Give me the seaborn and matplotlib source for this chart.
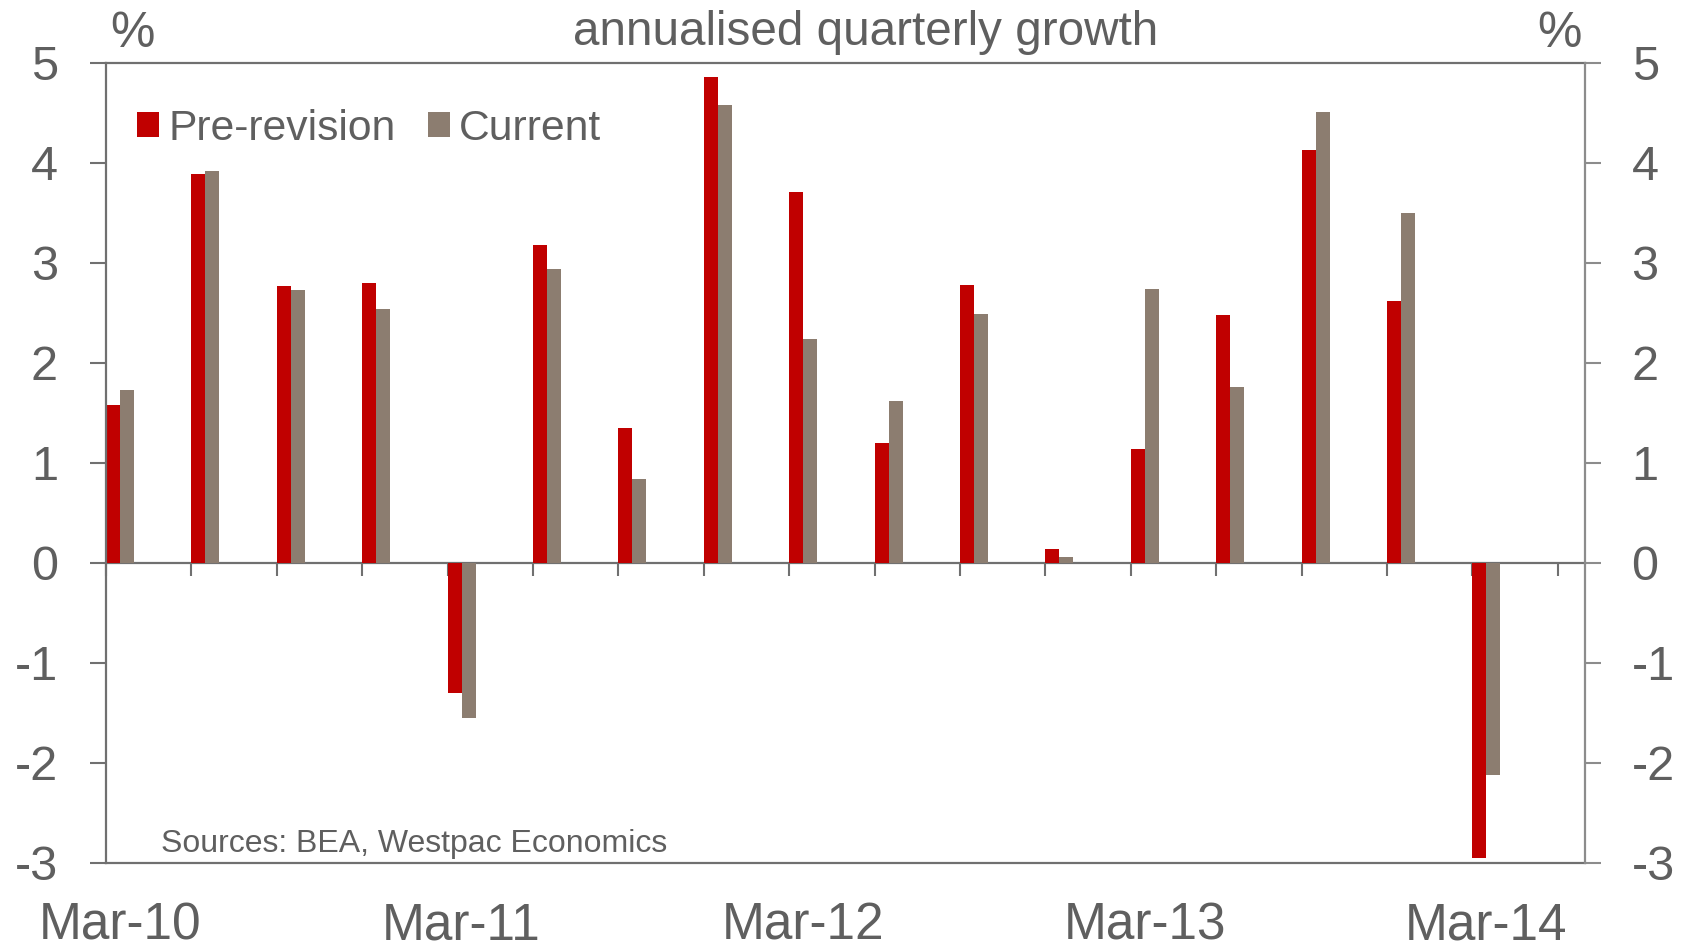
import matplotlib
matplotlib.use("Agg")
import matplotlib.pyplot as plt
import seaborn as sns
import pandas as pd

# ---- data ----
quarters = ['Mar-10', 'Jun-10', 'Sep-10', 'Dec-10', 'Mar-11', 'Jun-11', 'Sep-11', 'Dec-11',
            'Mar-12', 'Jun-12', 'Sep-12', 'Dec-12', 'Mar-13', 'Jun-13', 'Sep-13', 'Dec-13', 'Mar-14']
pre_revision = [1.58, 3.89, 2.77, 2.80, -1.30, 3.18, 1.35, 4.86,
                3.71, 1.20, 2.78, 0.14, 1.14, 2.48, 4.13, 2.62, -2.95]
current = [1.73, 3.92, 2.73, 2.54, -1.55, 2.94, 0.84, 4.58,
           2.24, 1.62, 2.49, 0.06, 2.74, 1.76, 4.51, 3.50, -2.12]
series_names = ['Pre-revision', 'Current']
y_ticks = [-3, -2, -1, 0, 1, 2, 3, 4, 5]
title = 'annualised quarterly growth'
source = 'Sources: BEA, Westpac Economics'

df = pd.DataFrame({
    'quarter': quarters * 2,
    'series': [series_names[0]] * len(quarters) + [series_names[1]] * len(quarters),
    'value': pre_revision + current,
})

# ---- style ----
sns.set_style('white')
plt.rcParams['font.family'] = ['Liberation Sans', 'DejaVu Sans']
TXT = '#5f5f5f'
SP = '#707070'
SP_R = '#8c8c8c'
RED = '#C00000'
GREY = '#8C7D70'

W, H = 1694, 951
fig, ax = plt.subplots(figsize=(W / 100, H / 100), dpi=100)
fig.subplots_adjust(left=106 / W, right=1585 / W, bottom=1 - 863 / H, top=1 - 63 / H)

pair_w = 0.328
sns.barplot(data=df, x='quarter', y='value', hue='series', order=quarters,
            hue_order=series_names, palette=[RED, GREY], width=pair_w, gap=0,
            saturation=1, errorbar=None, linewidth=0, ax=ax)

half = pair_w / 2
ax.set_xlim(-half, -half + 1479 / 85.4)
ax.set_ylim(-3, 5)
ax.set_xlabel('')
ax.set_ylabel('')

# x labels (only March quarters) at the bottom of the frame
lab_pos = [i for i, q in enumerate(quarters) if q.startswith('Mar')]
ax.set_xticks(lab_pos)
ax.set_xticklabels([quarters[i] for i in lab_pos], fontsize=37, color=TXT)
ax.tick_params(axis='x', length=0, pad=27.5)

# left y axis
ax.set_yticks(y_ticks)
ax.set_yticklabels([str(v) for v in y_ticks], fontsize=35, color=TXT)
ax.tick_params(axis='y', direction='out', length=11.5, width=1.5, color=SP, pad=23, left=True)

for s in ['left', 'top', 'bottom']:
    ax.spines[s].set_visible(True)
    ax.spines[s].set_color(SP)
    ax.spines[s].set_linewidth(1.6)
ax.spines['right'].set_visible(False)

# right y axis
ax2 = ax.twinx()
ax2.set_ylim(-3, 5)
ax2.set_yticks(y_ticks)
ax2.set_yticklabels([str(v) for v in y_ticks], fontsize=35, color=TXT)
ax2.tick_params(axis='y', direction='out', length=11.5, width=1.5, color=SP_R, pad=22, right=True)
for s in ['left', 'top', 'bottom']:
    ax2.spines[s].set_visible(False)
ax2.spines['right'].set_visible(True)
ax2.spines['right'].set_color(SP_R)
ax2.spines['right'].set_linewidth(1.6)

# zero line with category boundary ticks
sec = ax.secondary_xaxis(3 / 8)
sec.set_xticks([i - half for i in range(len(quarters) + 1)])
sec.set_xticklabels([])
sec.tick_params(axis='x', direction='out', length=9, width=1.5, color=SP)
sec.spines['bottom'].set_color(SP)
sec.spines['bottom'].set_linewidth(1.6)

# legend
sns.move_legend(ax, 'center left', bbox_to_anchor=((137 - 106) / 1479, (863 - 129) / 800),
                ncol=2, frameon=False, title=None, fontsize=30.7, handlelength=0.52,
                handleheight=0.52, handletextpad=0.22, columnspacing=0.75,
                borderpad=0, borderaxespad=0, labelcolor=TXT)

# texts
fig.text(866 / W, 1 - 45 / H, title, ha='center', va='baseline', fontsize=34.3, color=TXT)
fig.text(110 / W, 1 - 47 / H, '%', ha='left', va='baseline', fontsize=36, color=TXT)
fig.text(1582 / W, 1 - 47 / H, '%', ha='right', va='baseline', fontsize=36, color=TXT)
ax.text(55 / 1479, 11 / 800, source, transform=ax.transAxes, ha='left', va='baseline',
        fontsize=23, color=TXT)

fig.savefig('out.png', dpi=100, facecolor='white')
